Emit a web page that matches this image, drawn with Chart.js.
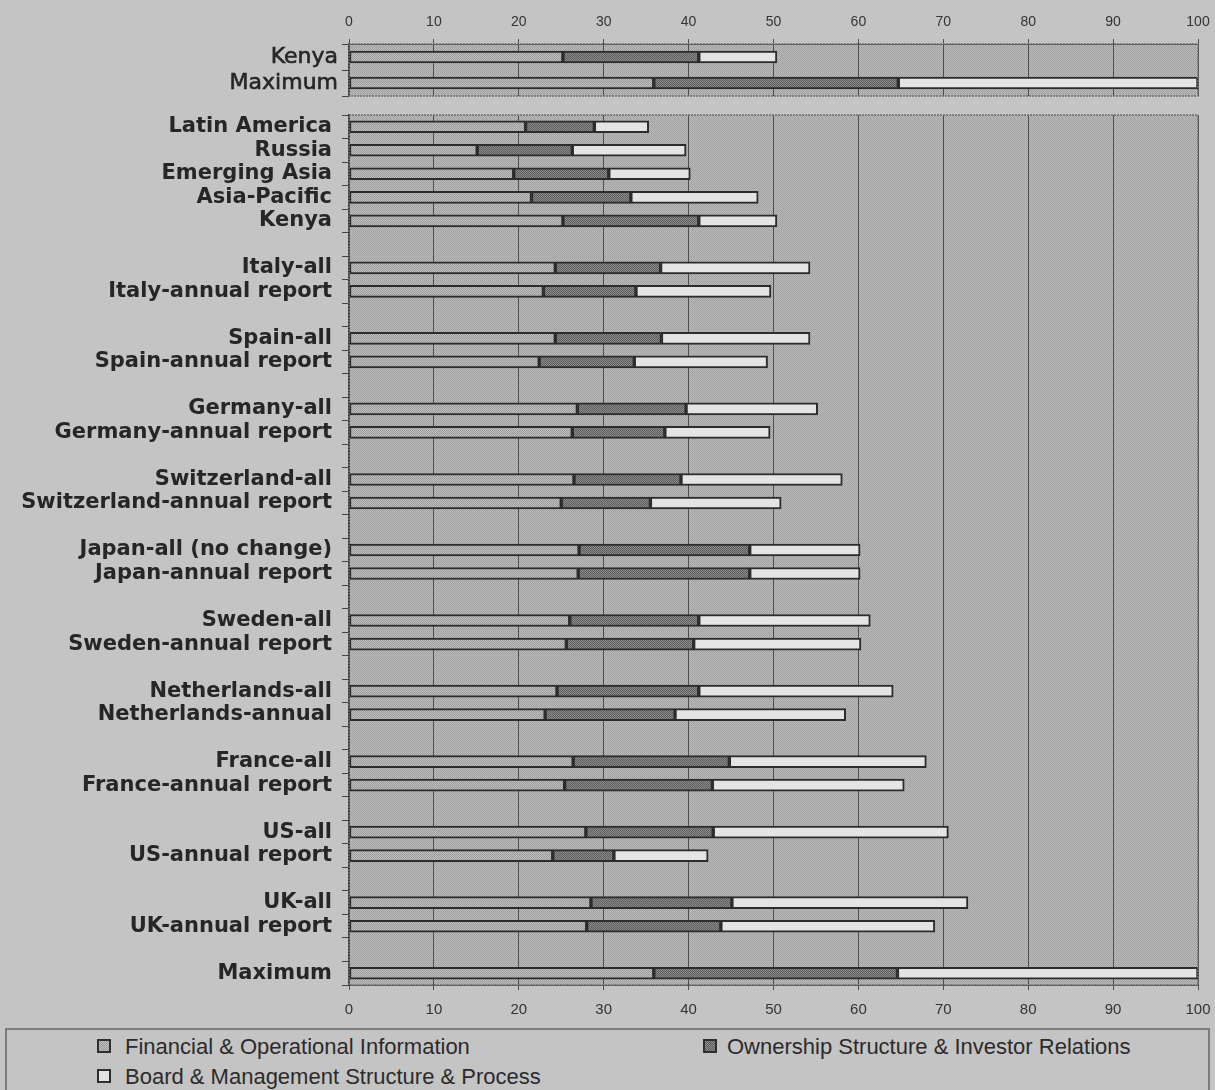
<!DOCTYPE html>
<html>
<head>
<meta charset="utf-8">
<title>Disclosure scores by category</title>
<script src="https://cdn.jsdelivr.net/npm/chart.js"></script>
<style>
    body {
        margin: 0;
        background: #c4c4c4;
        width: 1215px;
        height: 1090px;
        overflow: hidden;
        position: relative;
        font-family: 'Liberation Sans', Arial, sans-serif;
    }
    #topChart { position: absolute; left: 0; top: 0; }
    #mainChart { position: absolute; left: 0; top: 100px; }
    .legend {
        position: absolute;
        left: 5px;
        top: 1028px;
        width: 1201px;
        height: 80px;
        border: 2px solid #7c7c7c;
    }
    .item {
        position: absolute;
        font-size: 22px;
        line-height: 24px;
        color: #2b2b2b;
        white-space: nowrap;
    }
    .sw {
        position: absolute;
        width: 10px;
        height: 10px;
        border: 2px solid #2e2e2e;
    }
</style>
</head>
<body>
    <canvas id="topChart" width="1215" height="100"></canvas>
    <canvas id="mainChart" width="1215" height="925"></canvas>

    <div class="legend">
        <div class="sw" style="left:90px; top:9px; background: repeating-conic-gradient(#9a9a9a 0 25%, #c0c0c0 0 50%) 0 0/2px 2px;"></div>
        <div class="item" style="left:118px; top:5px;">Financial &amp; Operational Information</div>
        <div class="sw" style="left:696px; top:9px; background: repeating-conic-gradient(#5e5e5e 0 25%, #8a8a8a 0 50%) 0 0/2px 2px;"></div>
        <div class="item" style="left:720px; top:5px;">Ownership Structure &amp; Investor Relations</div>
        <div class="sw" style="left:90px; top:39px; background: #e4e4e4;"></div>
        <div class="item" style="left:118px; top:35px;">Board &amp; Management Structure &amp; Process</div>
    </div>

    <script>
        // small chart at the top
        const topCategories = ['Kenya', 'Maximum'];
        const topFinancial = [25.2, 35.9];
        const topOwnership = [16.0, 28.8];
        const topBoard = [9.2, 35.3];

        // main chart, '' rows are the spacer rows
        const categories = [
            'Latin America', 'Russia', 'Emerging Asia', 'Asia-Pacific', 'Kenya', '',
            'Italy-all', 'Italy-annual report', '',
            'Spain-all', 'Spain-annual report', '',
            'Germany-all', 'Germany-annual report', '',
            'Switzerland-all', 'Switzerland-annual report', '',
            'Japan-all (no change)', 'Japan-annual report', '',
            'Sweden-all', 'Sweden-annual report', '',
            'Netherlands-all', 'Netherlands-annual', '',
            'France-all', 'France-annual report', '',
            'US-all', 'US-annual report', '',
            'UK-all', 'UK-annual report', '',
            'Maximum'
        ];
        const financial = [
            20.8, 15.1, 19.4, 21.5, 25.2, null,
            24.3, 22.9, null,
            24.3, 22.4, null,
            26.9, 26.3, null,
            26.5, 25.0, null,
            27.1, 27.0, null,
            26.0, 25.6, null,
            24.5, 23.1, null,
            26.4, 25.4, null,
            27.9, 24.0, null,
            28.5, 28.0, null,
            35.9
        ];
        const ownership = [
            8.1, 11.2, 11.2, 11.7, 16.0, null,
            12.4, 10.9, null,
            12.5, 11.2, null,
            12.8, 10.9, null,
            12.6, 10.5, null,
            20.1, 20.2, null,
            15.2, 15.0, null,
            16.7, 15.3, null,
            18.4, 17.4, null,
            15.0, 7.2, null,
            16.6, 15.8, null,
            28.7
        ];
        const board = [
            6.4, 13.4, 9.6, 15.0, 9.2, null,
            17.6, 15.9, null,
            17.5, 15.7, null,
            15.5, 12.4, null,
            19.0, 15.4, null,
            13.0, 13.0, null,
            20.2, 19.7, null,
            22.9, 20.1, null,
            23.2, 22.6, null,
            27.7, 11.1, null,
            27.8, 25.2, null,
            35.4
        ];
        const xTicks = [0, 10, 20, 30, 40, 50, 60, 70, 80, 90, 100];

        function checker(a, b) {
            const c = document.createElement('canvas');
            c.width = 2; c.height = 2;
            const g = c.getContext('2d');
            g.fillStyle = b; g.fillRect(0, 0, 2, 2);
            g.fillStyle = a; g.fillRect(0, 0, 1, 1); g.fillRect(1, 1, 1, 1);
            return g.createPattern(c, 'repeat');
        }
        const plotPattern = checker('#a2a2a2', '#b9b9b9');
        const finPattern = checker('#9a9a9a', '#c0c0c0');
        const ownPattern = checker('#5e5e5e', '#8a8a8a');
        const boardColor = '#e4e4e4';
        const edge = '#2c2c2c';

        const plotBg = {
            id: 'plotBg',
            beforeDraw(chart) {
                const { ctx, chartArea: a } = chart;
                ctx.save();
                ctx.fillStyle = plotPattern;
                ctx.fillRect(a.left, a.top, a.right - a.left, a.bottom - a.top);
                ctx.restore();
            },
            afterDraw(chart) {
                const { ctx, chartArea: a } = chart;
                ctx.save();
                ctx.strokeStyle = '#6e6e6e';
                ctx.lineWidth = 1.5;
                ctx.setLineDash([2, 1]);
                ctx.strokeRect(a.left, a.top, a.right - a.left, a.bottom - a.top);
                ctx.restore();
            }
        };

        function datasets(f, o, b, thick) {
            const base = { borderColor: edge, borderWidth: 2, borderSkipped: false, barThickness: thick };
            return [
                Object.assign({ label: 'Financial & Operational Information', data: f, backgroundColor: finPattern }, base),
                Object.assign({ label: 'Ownership Structure & Investor Relations', data: o, backgroundColor: ownPattern }, base),
                Object.assign({ label: 'Board & Management Structure & Process', data: b, backgroundColor: boardColor }, base)
            ];
        }

        function xAxis(pos, h, font, pad) {
            return {
                position: pos,
                stacked: true,
                min: 0,
                max: 100,
                afterBuildTicks: s => { s.ticks = xTicks.map(v => ({ value: v })); },
                afterFit: s => { s.height = h; s.paddingLeft = 0; s.paddingRight = 0; },
                grid: { color: '#4e4e4e', lineWidth: 1, tickLength: 5, tickColor: '#4e4e4e' },
                border: { color: '#555', width: 1 },
                ticks: { color: '#333', font: font, padding: pad, maxRotation: 0 }
            };
        }

        function yAxis(font, pad, stroke) {
            return {
                stacked: true,
                afterFit: s => { s.width = 349; s.paddingTop = 0; s.paddingBottom = 0; },
                grid: { drawOnChartArea: false, tickLength: 7, color: '#444', tickColor: '#444' },
                border: { color: '#333', width: 1.5 },
                ticks: {
                    color: '#262626', font: font, padding: pad, autoSkip: false,
                    textStrokeColor: '#262626', textStrokeWidth: stroke
                }
            };
        }

        const common = {
            indexAxis: 'y',
            responsive: false,
            animation: false,
            plugins: { legend: { display: false }, tooltip: { enabled: false } }
        };

        new Chart(document.getElementById('topChart'), {
            type: 'bar',
            plugins: [plotBg],
            data: { labels: topCategories, datasets: datasets(topFinancial, topOwnership, topBoard, 12) },
            options: Object.assign({}, common, {
                layout: { padding: { top: 0, right: 17, bottom: 4, left: 0 } },
                scales: {
                    x: xAxis('top', 44, { family: "'Liberation Sans', Arial", size: 14 }, 8),
                    y: yAxis({ family: "'DejaVu Sans', sans-serif", size: 22 }, 4, 0.6)
                }
            })
        });

        new Chart(document.getElementById('mainChart'), {
            type: 'bar',
            plugins: [plotBg],
            data: { labels: categories, datasets: datasets(financial, ownership, board, 12) },
            options: Object.assign({}, common, {
                layout: { padding: { top: 15, right: 17, bottom: 0, left: 0 } },
                scales: {
                    x: xAxis('bottom', 40, { family: "'Liberation Sans', Arial", size: 15 }, 11),
                    y: yAxis({ family: "'DejaVu Sans', sans-serif", size: 21, weight: 'bold' }, 10, 0)
                }
            })
        });
    </script>
</body>
</html>
